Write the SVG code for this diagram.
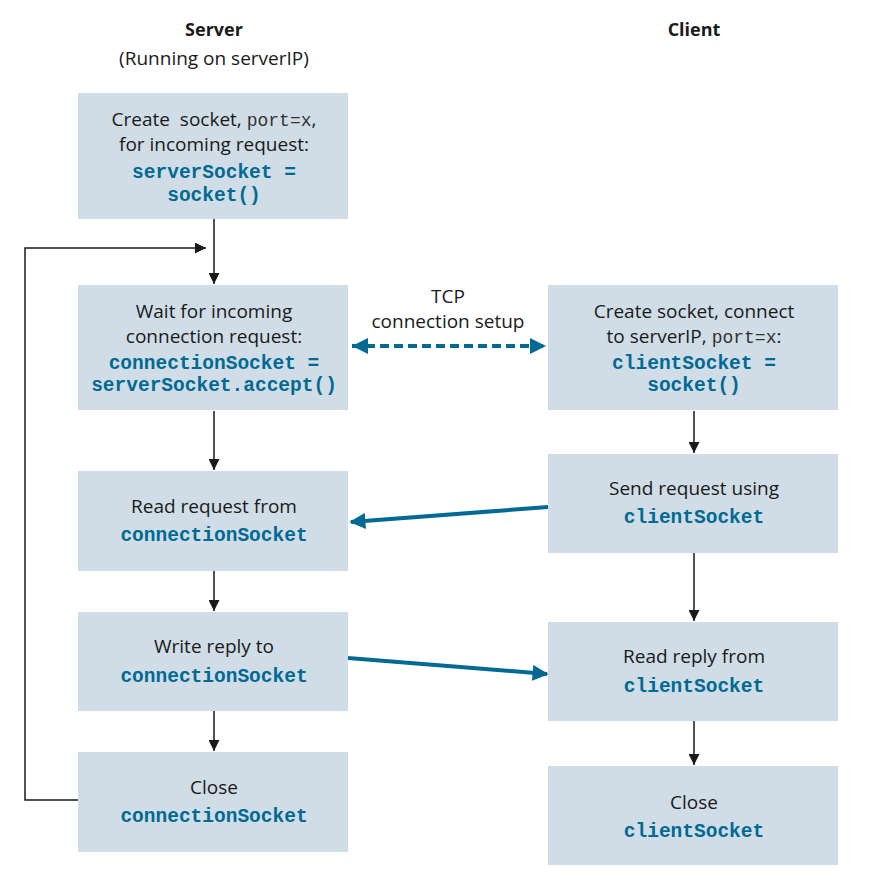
<svg xmlns="http://www.w3.org/2000/svg" width="872" height="882" viewBox="0 0 872 882">
<defs>
<marker id="ah" viewBox="0 0 10 10" refX="10" refY="5" markerWidth="11" markerHeight="11" markerUnits="userSpaceOnUse" orient="auto"><path d="M0,0 L10,5 L0,10 z" fill="#1a1a1a"/></marker>
<marker id="bh" viewBox="0 0 10 10" refX="10" refY="5" markerWidth="4" markerHeight="4" orient="auto-start-reverse"><path d="M0,0 L10,5 L0,10 z" fill="#006a94"/></marker>
<marker id="bh2" viewBox="0 0 10 10" refX="9" refY="5" markerWidth="4" markerHeight="4" orient="auto"><path d="M0,0 L10,5 L0,10 z" fill="#006a94"/></marker>
</defs>
<style>
.box{fill:#d0dde6}
.t{font-family:"Open Sans","Noto Sans",sans-serif;font-size:19px;fill:#1a1a1a;text-anchor:middle}
.h{font-weight:bold;font-size:18px}
.c{font-family:"Liberation Mono",monospace;font-size:19.5px;font-weight:bold;fill:#006a94;text-anchor:middle}
.m{font-family:"Liberation Mono",monospace;font-size:18px;fill:#333}
.k{stroke:#1a1a1a;stroke-width:1.5;fill:none}
.b{stroke:#006a94;stroke-width:4;fill:none}
</style>
<text class="t h" x="214" y="36">Server</text>
<text class="t" x="214" y="65">(Running on serverIP)</text>
<text class="t h" x="694" y="36">Client</text>

<g id="s1"><rect class="box" x="78" y="93" width="270" height="126"/>
<text class="t" xml:space="preserve"><tspan x="214" y="126">Create  socket, <tspan class="m">port=x</tspan>,</tspan><tspan x="214" y="151">for incoming request:</tspan></text>
<text class="c"><tspan x="214" y="178">serverSocket =</tspan><tspan x="214" y="201">socket()</tspan></text></g>

<g id="s2"><rect class="box" x="78" y="285" width="270" height="125"/>
<text class="t"><tspan x="214" y="318">Wait for incoming</tspan><tspan x="214" y="343">connection request:</tspan></text>
<text class="c"><tspan x="214" y="369">connectionSocket =</tspan><tspan x="214" y="391">serverSocket.accept()</tspan></text></g>

<g id="s3"><rect class="box" x="78" y="471" width="270" height="100"/>
<text class="t" x="214" y="513">Read request from</text>
<text class="c" x="214" y="541">connectionSocket</text></g>

<g id="s4"><rect class="box" x="78" y="612" width="270" height="99"/>
<text class="t" x="214" y="653">Write reply to</text>
<text class="c" x="214" y="682">connectionSocket</text></g>

<g id="s5"><rect class="box" x="78" y="752" width="270" height="100"/>
<text class="t" x="214" y="794">Close</text>
<text class="c" x="214" y="822">connectionSocket</text></g>

<g id="c1"><rect class="box" x="548" y="285" width="290" height="125"/>
<text class="t"><tspan x="694" y="318">Create socket, connect</tspan><tspan x="694" y="343">to serverIP, <tspan class="m">port=x</tspan>:</tspan></text>
<text class="c"><tspan x="694" y="369">clientSocket =</tspan><tspan x="694" y="391">socket()</tspan></text></g>

<g id="c2"><rect class="box" x="548" y="454" width="290" height="99"/>
<text class="t" x="694" y="495">Send request using</text>
<text class="c" x="694" y="523">clientSocket</text></g>

<g id="c3"><rect class="box" x="548" y="622" width="290" height="99"/>
<text class="t" x="694" y="663">Read reply from</text>
<text class="c" x="694" y="692">clientSocket</text></g>

<g id="c4"><rect class="box" x="548" y="766" width="290" height="99"/>
<text class="t" x="694" y="809">Close</text>
<text class="c" x="694" y="837">clientSocket</text></g>

<g id="tcp-label">
<text class="t"><tspan x="448" y="303">TCP</tspan><tspan x="448" y="328">connection setup</tspan></text></g>

<g id="connectors">
<line class="k" x1="214" y1="219" x2="214" y2="284" marker-end="url(#ah)"/>
<line class="k" x1="214" y1="411" x2="214" y2="470" marker-end="url(#ah)"/>
<line class="k" x1="214" y1="571" x2="214" y2="611" marker-end="url(#ah)"/>
<line class="k" x1="214" y1="711" x2="214" y2="751" marker-end="url(#ah)"/>
<line class="k" x1="694" y1="411" x2="694" y2="453" marker-end="url(#ah)"/>
<line class="k" x1="694" y1="553" x2="694" y2="621" marker-end="url(#ah)"/>
<line class="k" x1="694" y1="721" x2="694" y2="765" marker-end="url(#ah)"/>
<polyline class="k" points="78,800 25,800 25,248 206,248" marker-end="url(#ah)"/>
<line class="b" x1="352" y1="346" x2="546" y2="346" stroke-dasharray="9,5" stroke-width="3.5" marker-start="url(#bh)" marker-end="url(#bh)"/>
<line class="b" x1="548" y1="507" x2="351" y2="522" marker-end="url(#bh2)"/>
<line class="b" x1="348" y1="658" x2="547" y2="674" marker-end="url(#bh2)"/>
</g>
</svg>
